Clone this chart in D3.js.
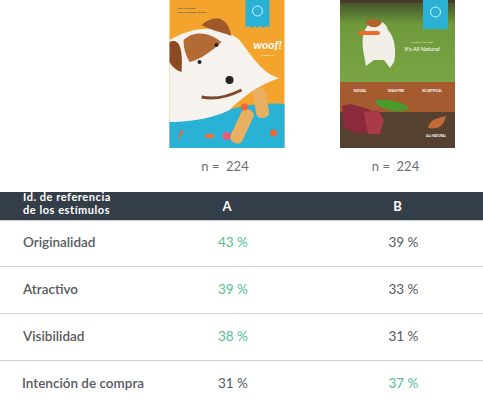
<!DOCTYPE html>
<html>
<head>
<meta charset="utf-8">
<script src="https://cdn.jsdelivr.net/npm/d3@7"></script>
<style>
  body { margin: 0; background: #fff; }
  svg { display: block; font-family: "Lato", "Open Sans", sans-serif; }
</style>
</head>
<body>
<svg id="chart"></svg>
<script>
// Data
const stimuli = ["A", "B"];
const sampleSizes = [224, 224];
const attributes = ["Originalidad", "Atractivo", "Visibilidad", "Intención de compra"];
const valuesA = [43, 39, 38, 31];
const valuesB = [39, 33, 31, 37];
const headerLabel = ["Id. de referencia", "de los estímulos"];

const width = 483, height = 400;
const green = "#52c08a", gray = "#555a5e", dark = "#343e49";

const svg = d3.select("#chart").attr("width", width).attr("height", height);

// Scales
const xCol = d3.scalePoint().domain(stimuli).range([227, 397.5]);
const yRow = d3.scaleBand().domain(attributes).range([219, 407]);
const imgW = 115, imgH = 148;

// Stimulus pictures (drawn as simple shapes)
const pics = svg.selectAll(".pic").data(stimuli).join("g")
  .attr("class", "pic")
  .attr("transform", d => `translate(${xCol(d) - imgW / 2},0)`);

// --- A: orange poster
const pA = pics.filter(d => d === "A");
pA.append("rect").attr("width", imgW).attr("height", imgH).attr("fill", "#f4a42c");
pA.append("path").attr("fill", "#2ab2d6")
  .attr("d", `M0,${imgH - 28} C30,${imgH - 22} 60,${imgH - 48} ${imgW},${imgH - 44} L${imgW},${imgH} L0,${imgH} Z`);
pA.append("path").attr("fill", "#f6f3ee")
  .attr("d", "M0,40 C20,28 50,22 70,40 C85,60 95,75 110,78 C90,85 75,95 60,110 C40,120 15,122 0,122 Z");
pA.append("path").attr("fill", "#a0582a").attr("d", "M32,25 C45,14 58,16 62,36 C52,32 40,30 32,25 Z");
pA.append("path").attr("fill", "#8a4a22").attr("d", "M0,42 C8,38 14,44 12,72 C6,70 2,66 0,62 Z");
pA.append("path").attr("fill", "#b46a34").attr("d", "M14,40 C24,30 40,32 52,42 C44,50 30,60 20,62 C16,55 14,48 14,40 Z");
pA.append("circle").attr("cx", 60).attr("cy", 80).attr("r", 4).attr("fill", "#222");
pA.append("circle").attr("cx", 30).attr("cy", 62).attr("r", 2).attr("fill", "#222");
pA.append("circle").attr("cx", 47).attr("cy", 45).attr("r", 2).attr("fill", "#222");
pA.append("path").attr("stroke", "#7a4a2a").attr("stroke-width", 3).attr("fill", "none")
  .attr("d", "M32,97 C45,100 60,96 72,90");
pA.append("rect").attr("x", 85).attr("y", 88).attr("width", 13).attr("height", 30).attr("rx", 5)
  .attr("fill", "#eab062").attr("transform", "rotate(-10,91,103)");
pA.append("rect").attr("x", 66).attr("y", 108).attr("width", 13).attr("height", 36).attr("rx", 5)
  .attr("fill", "#eab062").attr("transform", "rotate(25,72,126)");
pA.append("circle").attr("cx", 75).attr("cy", 107).attr("r", 3.5).attr("fill", "#e8673a");
pA.append("circle").attr("cx", 104).attr("cy", 133).attr("r", 3.5).attr("fill", "#e8673a");
pA.append("path").attr("fill", "#e8673a").attr("d", "M8,142 L11,130 L14,131 Z");
pA.append("ellipse").attr("cx", 40).attr("cy", 136).attr("rx", 5).attr("ry", 2.5).attr("fill", "#d97a4a");
pA.append("circle").attr("cx", 57).attr("cy", 136).attr("r", 4).attr("fill", "#e65a7a");
pA.append("path").attr("fill", "#2ab2d6").attr("d", "M76,0 H100 V28 L97,26 L94,28 L91,26 L88,28 L85,26 L82,28 L79,26 L76,28 Z");
pA.append("circle").attr("cx", 88).attr("cy", 11).attr("r", 5).attr("fill", "none").attr("stroke", "#fff").attr("stroke-width", 0.8);
pA.append("text").attr("x", 98).attr("y", 49).attr("text-anchor", "middle")
  .attr("fill", "#fff").attr("font-size", 12).attr("font-style", "italic").attr("font-weight", 700).text("woof!");
pA.append("text").attr("x", 98).attr("y", 56).attr("text-anchor", "middle")
  .attr("fill", "#fff").attr("font-size", 2.5).text("THERE IT IS");
pA.append("text").attr("x", 8).attr("y", 9).attr("fill", "#2c5a6a").attr("font-size", 2.5).attr("font-weight", 700).text("ONLY THE BEST");
pA.append("text").attr("x", 8).attr("y", 13).attr("fill", "#2c5a6a").attr("font-size", 2.5).attr("font-weight", 700).text("FOR YOUR BEST FRIEND");

// --- B: grass / brown poster
const pB = pics.filter(d => d === "B");
const grad = svg.append("defs").append("linearGradient").attr("id", "grass")
  .attr("x1", 0).attr("y1", 0).attr("x2", 0).attr("y2", 1);
grad.append("stop").attr("offset", "0%").attr("stop-color", "#3e4d2a");
grad.append("stop").attr("offset", "30%").attr("stop-color", "#6f9a3c");
grad.append("stop").attr("offset", "100%").attr("stop-color", "#7aa544");
pB.append("rect").attr("width", imgW).attr("height", 82).attr("fill", "url(#grass)");
pB.append("rect").attr("width", imgW).attr("height", 3).attr("fill", "#4a3a2a");
pB.append("rect").attr("y", 82).attr("width", imgW).attr("height", 30).attr("fill", "#a55a30");
pB.append("rect").attr("y", 112).attr("width", imgW).attr("height", 36).attr("fill", "#56402f");
pB.append("path").attr("fill", "#f2efe8")
  .attr("d", "M25,30 C30,18 45,18 48,30 C56,38 56,55 54,62 L50,68 L44,60 L34,60 L26,66 L24,55 C22,45 22,36 25,30 Z");
pB.append("path").attr("fill", "#b0642c").attr("d", "M25,22 C30,18 38,18 42,22 C40,28 30,30 25,22 Z");
pB.append("rect").attr("x", 18).attr("y", 31).attr("width", 22).attr("height", 4).attr("rx", 2).attr("fill", "#ec6a2a");
pB.append("path").attr("fill", "#8a2a3a").attr("d", "M2,106 L10,104 L25,108 L35,112 L32,132 L20,134 L4,128 Z");
pB.append("path").attr("fill", "#a83a4a").attr("d", "M24,112 L38,110 L44,120 L40,134 L28,134 Z");
pB.append("path").attr("fill", "#4c9a2a").attr("d", "M36,100 C50,98 62,102 70,108 C62,114 48,112 36,104 Z");
pB.append("path").attr("fill", "#c06a3a").attr("d", "M88,128 C90,118 100,118 106,116 C104,126 98,130 88,128 Z");
pB.append("path").attr("fill", "#2ab2d6").attr("d", "M83,0 H108 V30 L105,28 L102,30 L99,28 L96,30 L93,28 L90,30 L87,28 L83,30 Z");
pB.append("circle").attr("cx", 95.5).attr("cy", 12).attr("r", 5).attr("fill", "none").attr("stroke", "#fff").attr("stroke-width", 0.8);
pB.append("text").attr("x", 82).attr("y", 51).attr("text-anchor", "middle")
  .attr("fill", "#fff").attr("font-size", 6).attr("font-style", "italic").text("It's All Natural");
pB.append("text").attr("x", 82).attr("y", 43).attr("text-anchor", "middle")
  .attr("fill", "#fff").attr("font-size", 2.5).text("MAKE MY DINNER");
["NATURAL", "GRAIN-FREE", "NO ARTIFICIAL"].forEach((t, i) => {
  pB.append("text").attr("x", 20 + i * 36).attr("y", 92).attr("text-anchor", "middle")
    .attr("fill", "#fff").attr("font-size", 2.8).attr("font-weight", 700).text(t);
});
pB.append("text").attr("x", 96).attr("y", 137).attr("text-anchor", "middle")
  .attr("fill", "#fff").attr("font-size", 3).attr("font-weight", 700).text("ALL-NATURAL");

// Sample sizes
svg.selectAll(".n").data(stimuli).join("text")
  .attr("class", "n")
  .attr("x", d => xCol(d) - 2)
  .attr("y", 171)
  .attr("text-anchor", "middle")
  .attr("fill", "#6b6f72")
  .attr("font-size", 13)
  .attr("xml:space", "preserve")
  .text((d, i) => `n =  ${sampleSizes[i]}`);

// Header bar
svg.append("rect").attr("x", 0).attr("y", 192).attr("width", width).attr("height", 28).attr("fill", dark);
svg.append("line").attr("x1", 0).attr("x2", width).attr("y1", 220.5).attr("y2", 220.5)
  .attr("stroke", "#c9cdd1").attr("stroke-width", 1);
svg.selectAll(".hdr").data(headerLabel).join("text")
  .attr("class", "hdr")
  .attr("x", 23).attr("y", (d, i) => 201 + i * 13.3)
  .attr("fill", "#fff").attr("font-size", 11).attr("font-weight", 700)
  .attr("letter-spacing", 0.55)
  .text(d => d);
svg.selectAll(".colhead").data(stimuli).join("text")
  .attr("class", "colhead")
  .attr("x", d => xCol(d))
  .attr("y", 211)
  .attr("text-anchor", "middle")
  .attr("fill", "#fff").attr("font-size", 13).attr("font-weight", 700)
  .text(d => d);

// Row separators
svg.selectAll(".sep").data(attributes.slice(1)).join("line")
  .attr("class", "sep")
  .attr("x1", 0).attr("x2", width)
  .attr("y1", d => Math.round(yRow(d)) + 0.5).attr("y2", d => Math.round(yRow(d)) + 0.5)
  .attr("stroke", "#cfd2d5").attr("stroke-width", 1);

// Row labels
svg.selectAll(".rowlab").data(attributes).join("text")
  .attr("class", "rowlab")
  .attr("x", (d, i) => i === 3 ? 22 : 23)
  .attr("y", d => yRow(d) + yRow.bandwidth() / 2 + 4)
  .attr("fill", gray).attr("font-size", 13.5).attr("font-weight", 600)
  .text(d => d);

// Values
const rows = attributes.map((a, i) => ({ attr: a, vals: [valuesA[i], valuesB[i]] }));
const cells = rows.flatMap(r => r.vals.map((v, j) => ({
  attr: r.attr, col: stimuli[j], v, best: v === d3.max(r.vals)
})));
svg.selectAll(".val").data(cells).join("text")
  .attr("class", "val")
  .attr("x", d => xCol(d.col) - 9)
  .attr("y", d => yRow(d.attr) + yRow.bandwidth() / 2 + 4)
  .attr("fill", d => d.best ? green : gray)
  .attr("font-size", 13.5)
  .text(d => `${d.v} %`);
</script>
</body>
</html>
